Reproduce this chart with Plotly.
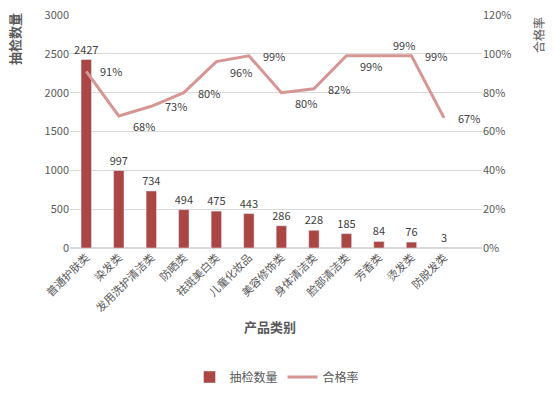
import plotly.graph_objects as go

categories = ["普通护肤类", "染发类", "发用洗护清洁类", "防晒类", "祛斑美白类", "儿童化妆品",
              "美容修饰类", "身体清洁类", "脸部清洁类", "芳香类", "烫发类", "防脱发类"]
counts = [2427, 997, 734, 494, 475, 443, 286, 228, 185, 84, 76, 3]
pass_rate = [0.91, 0.68, 0.73, 0.80, 0.96, 0.99, 0.80, 0.82, 0.99, 0.99, 0.99, 0.67]
rate_labels = ["91%", "68%", "73%", "80%", "96%", "99%", "80%", "82%", "99%", "99%", "99%", "67%"]
label_pos = ["middle", "bottom", "middle", "middle", "bottom", "middle",
             "bottom", "middle", "bottom", "top", "middle", "middle"]

FONT = "Noto Sans CJK SC"
GRAY = "#595959"
W, H = 554, 395
pl, pt = 70, 15
pr = W - 482
pb = H - 248
pw, ph = W - pl - pr, H - pt - pb

def px2paper(px, py):
    return (px - pl) / pw, (H - pb - py) / ph

fig = go.Figure()
fig.add_trace(go.Bar(
    x=categories, y=counts, name="抽检数量",
    marker=dict(color="#AA4644"),
    text=[str(v) for v in counts], textposition="outside", constraintext="none",
    textfont=dict(size=11, color="#404040"), cliponaxis=False,
))
fig.add_trace(go.Scatter(
    x=categories, y=pass_rate, name="合格率", yaxis="y2",
    mode="lines", line=dict(color="#D59694", width=3),
))

annotations = []
yshift_map = {"middle": 0, "bottom": -10, "top": 11}
for c, r, t, p in zip(categories, pass_rate, rate_labels, label_pos):
    annotations.append(dict(x=c, y=r, xref="x", yref="y2", text=t, showarrow=False,
                            xanchor="left", yanchor="middle", xshift=12, yshift=yshift_map[p],
                            font=dict(size=11, color="#404040")))

for text, px, py, ang, sz in [("<b>抽检数量</b>", 15, 39, -90, 13),
                              ("合格率", 539, 35, -90, 12),
                              ("<b>产品类别</b>", 270, 326, 0, 13)]:
    x, y = px2paper(px, py)
    annotations.append(dict(text=text, x=x, y=y, xref="paper", yref="paper", textangle=ang,
                            xanchor="center", yanchor="middle", showarrow=False,
                            font=dict(size=sz, color=GRAY)))

lx, ly = px2paper(277, 377)
fig.update_layout(
    width=W, height=H,
    margin=dict(l=pl, r=pr, t=pt, b=pb, autoexpand=False),
    paper_bgcolor="white", plot_bgcolor="white",
    font=dict(family=FONT, size=11, color=GRAY),
    bargap=0.68,
    showlegend=True,
    legend=dict(orientation="h", x=lx, xanchor="center", y=ly, yanchor="middle",
                font=dict(size=12, color=GRAY), itemwidth=30),
    xaxis=dict(tickangle=-45, showgrid=False, showline=False, ticks="", automargin=False,
               tickfont=dict(size=11, color=GRAY)),
    yaxis=dict(range=[0, 3000], dtick=500, showgrid=True, gridcolor="#D9D9D9", gridwidth=1,
               zeroline=True, zerolinecolor="#D9D9D9", showline=False, ticks="", automargin=False,
               ticklabeloverflow="allow", tickfont=dict(size=11, color=GRAY)),
    yaxis2=dict(range=[0, 1.2], dtick=0.2, tickformat=".0%", overlaying="y", side="right",
                showgrid=False, zeroline=False, showline=False, ticks="", automargin=False,
                ticklabeloverflow="allow", tickfont=dict(size=11, color=GRAY)),
    annotations=annotations,
)

fig.write_html("out.html", include_plotlyjs=True, config={"displayModeBar": False},
               post_script="document.body.style.margin='0';document.body.style.overflow='hidden';")
